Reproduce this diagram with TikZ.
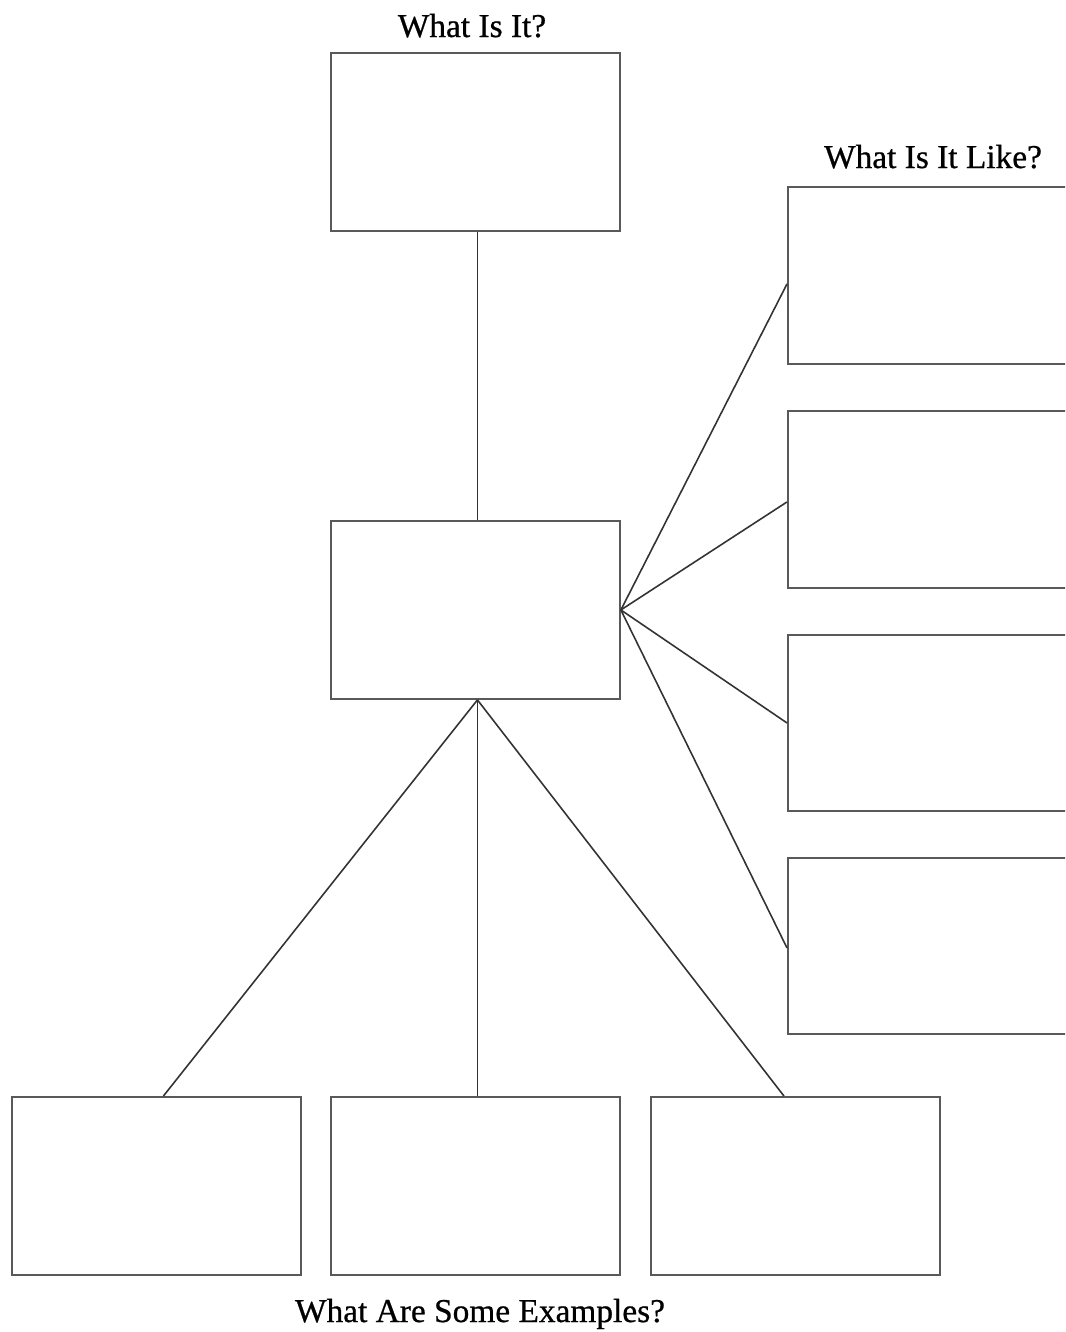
\documentclass[tikz,border=0pt]{standalone}
\usepackage{fontspec}
\setmainfont{Liberation Serif}
\newfontfamily\lblfont{Liberation Serif}[BoldFont={Liberation Serif},BoldFeatures={FakeBold=0.7}]
\tikzset{
  px/.style={x=0.02cm,y=-0.02cm},
  box/.style={draw=black!65,line width=1.1pt,minimum width=5.78cm,minimum height=3.56cm,inner sep=0pt,anchor=north west},
  link/.style={draw=black!80,line width=0.9pt},
  lbl/.style={font=\lblfont\bfseries\fontsize{19}{21}\selectfont,inner sep=0pt,anchor=base}
}
\begin{document}
\begin{tikzpicture}[px]
\useasboundingbox (0,0) rectangle (1065,1332);
\clip (0,0) rectangle (1065,1332);
\fill[white] (0,0) rectangle (1065,1332);
% boxes
\node[box] (top) at (330,52) {};
\node[box] (mid) at (330,520) {};
\node[box,minimum height=3.54cm] (r1) at (787,186) {};
\node[box,minimum height=3.54cm] (r2) at (787,410) {};
\node[box,minimum height=3.52cm] (r3) at (787,634) {};
\node[box,minimum height=3.52cm] (r4) at (787,857) {};
\node[box] (b1) at (11,1096) {};
\node[box] (b2) at (330,1096) {};
\node[box] (b3) at (650,1096) {};
% labels
\node[lbl] (t1) at (472,37) {What Is It?};
\node[lbl] (t2) at (933,168) {What Is It Like?};
\node[lbl] (t3) at (480,1322) {What Are Some Examples?};
% connectors
\draw[link] ([xshift=0.04cm]top.south) -- ([xshift=0.04cm]mid.north);
\draw[link] (mid.east) -- ([yshift=-0.17cm]r1.west);
\draw[link] (mid.east) -- ([yshift=-0.05cm]r2.west);
\draw[link] (mid.east) -- (r3.west);
\draw[link] (mid.east) -- ([yshift=-0.04cm]r4.west);
\draw[link] ([xshift=0.04cm]mid.south) -- ([xshift=0.14cm]b1.north);
\draw[link] ([xshift=0.04cm]mid.south) -- ([xshift=0.04cm]b2.north);
\draw[link] ([xshift=0.04cm]mid.south) -- ([xshift=-0.23cm]b3.north);
\end{tikzpicture}
\end{document}
